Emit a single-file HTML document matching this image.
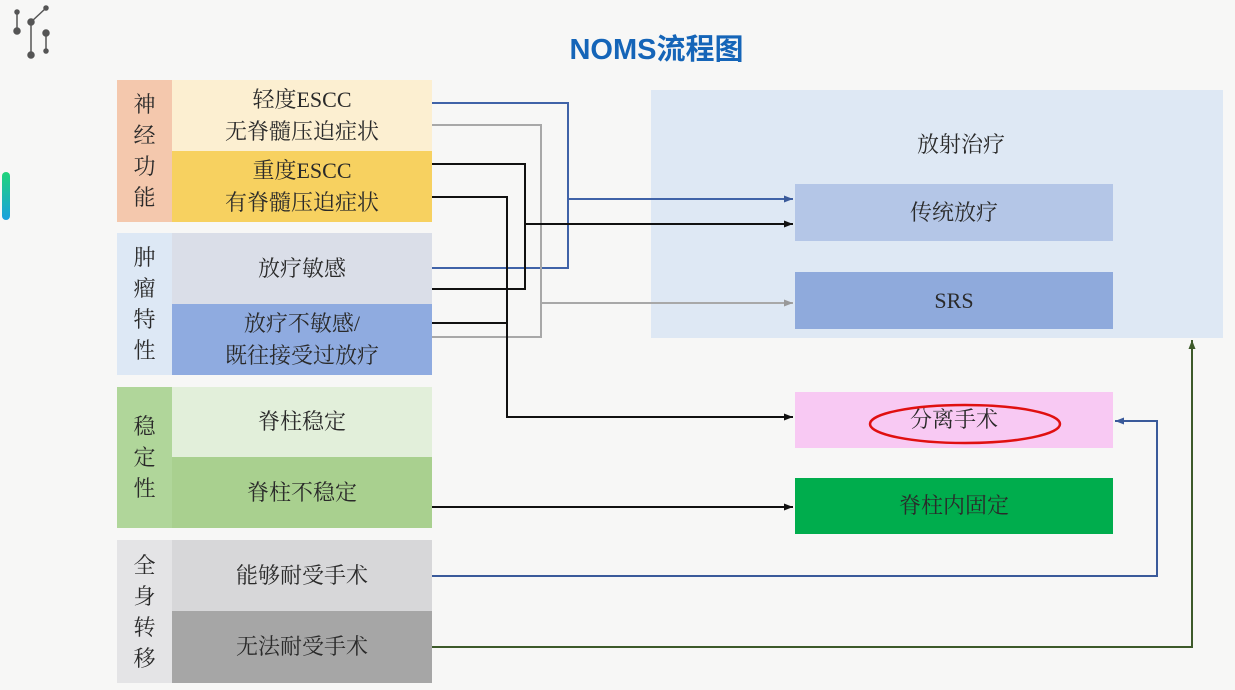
<!DOCTYPE html>
<html><head><meta charset="utf-8"><style>
body{margin:0;width:1235px;height:690px;background:#f7f7f6;position:relative;overflow:hidden;font-family:"Liberation Serif","Noto Serif CJK SC",serif;color:#2a2a2a}
.b{position:absolute;display:flex;align-items:center;justify-content:center;text-align:center;font-size:22px;line-height:32px}
.c{position:absolute;display:flex;align-items:center;justify-content:center;text-align:center;font-size:22px;line-height:31px;width:55px;left:117px}
.t{position:absolute;left:0;top:26px;width:1313px;text-align:center;font:bold 29px "Liberation Sans","Noto Sans CJK SC",sans-serif;color:#1565b8}
</style></head><body>
<div class="t">NOMS流程图</div>
<svg style="position:absolute;left:0;top:0" width="60" height="60"><g stroke="#555" stroke-width="1.5" fill="#555"><line x1="17" y1="12" x2="17" y2="31"/><line x1="31" y1="22" x2="31" y2="55"/><line x1="31" y1="22" x2="46" y2="8"/><line x1="46" y1="33" x2="46" y2="51"/><circle cx="17" cy="31" r="3"/><circle cx="31" cy="22" r="3"/><circle cx="46" cy="8" r="2"/><circle cx="46" cy="33" r="3"/><circle cx="31" cy="55" r="3"/><circle cx="46" cy="51" r="2"/><circle cx="17" cy="12" r="2"/></g></svg>
<div style="position:absolute;left:2px;top:172px;width:8px;height:48px;border-radius:4px;background:linear-gradient(#1fd47a,#1aa0e0)"></div>

<div class="c" style="top:80px;height:142px;background:#f4c8ad">神<br>经<br>功<br>能</div>
<div class="b" style="left:172px;top:80px;width:260px;height:71px;background:#fcefd1">轻度ESCC<br>无脊髓压迫症状</div>
<div class="b" style="left:172px;top:151px;width:260px;height:71px;background:#f7d160">重度ESCC<br>有脊髓压迫症状</div>

<div class="c" style="top:233px;height:142px;background:#dde8f5">肿<br>瘤<br>特<br>性</div>
<div class="b" style="left:172px;top:233px;width:260px;height:71px;background:#dadee8">放疗敏感</div>
<div class="b" style="left:172px;top:304px;width:260px;height:71px;background:#8fabe0">放疗不敏感/<br>既往接受过放疗</div>

<div class="c" style="top:387px;height:141px;background:#b0d69a">稳<br>定<br>性</div>
<div class="b" style="left:172px;top:387px;width:260px;height:70px;background:#e2efda">脊柱稳定</div>
<div class="b" style="left:172px;top:457px;width:260px;height:71px;background:#a9d08f">脊柱不稳定</div>

<div class="c" style="top:540px;height:143px;background:#e4e4e6">全<br>身<br>转<br>移</div>
<div class="b" style="left:172px;top:540px;width:260px;height:71px;background:#d7d7d9">能够耐受手术</div>
<div class="b" style="left:172px;top:611px;width:260px;height:72px;background:#a6a6a6">无法耐受手术</div>

<div style="position:absolute;left:651px;top:90px;width:572px;height:248px;background:#dee8f4"></div>
<div class="b" style="left:651px;top:128px;width:620px;height:34px">放射治疗</div>
<div class="b" style="left:795px;top:184px;width:318px;height:57px;background:#b4c6e7">传统放疗</div>
<div class="b" style="left:795px;top:272px;width:318px;height:57px;background:#8faadc">SRS</div>
<div class="b" style="left:795px;top:392px;width:318px;height:56px;background:#f8c9f3">分离手术</div>
<div class="b" style="left:795px;top:478px;width:318px;height:56px;background:#00ad4d">脊柱内固定</div>

<svg style="position:absolute;left:0;top:0" width="1235" height="690" fill="none">
<defs>
<marker id="ak" markerUnits="userSpaceOnUse" markerWidth="10" markerHeight="10" refX="9" refY="5" orient="auto"><path d="M0,1.5 L9,5 L0,8.5z" fill="#111"/></marker>
<marker id="ab" markerUnits="userSpaceOnUse" markerWidth="10" markerHeight="10" refX="9" refY="5" orient="auto"><path d="M0,1.5 L9,5 L0,8.5z" fill="#3a5a9a"/></marker>
<marker id="ag" markerUnits="userSpaceOnUse" markerWidth="10" markerHeight="10" refX="9" refY="5" orient="auto"><path d="M0,1.5 L9,5 L0,8.5z" fill="#999"/></marker>
<marker id="ad" markerUnits="userSpaceOnUse" markerWidth="10" markerHeight="10" refX="9" refY="5" orient="auto"><path d="M0,1.5 L9,5 L0,8.5z" fill="#3d5a2a"/></marker>
</defs>
<ellipse cx="965" cy="424" rx="95" ry="19" stroke="#e01010" stroke-width="2.5"/>
<g stroke-width="2">
<path d="M432,103 H568 V268 H432" stroke="#4063a8"/>
<path d="M568,199 H793" stroke="#4063a8" marker-end="url(#ab)"/>
<path d="M432,125 H541 V337 H432" stroke="#a8a8a8"/>
<path d="M541,303 H793" stroke="#a8a8a8" marker-end="url(#ag)"/>
<path d="M432,164 H525 V289 H432" stroke="#111"/>
<path d="M525,224 H793" stroke="#111" marker-end="url(#ak)"/>
<path d="M432,197 H507 V417 H793" stroke="#111" marker-end="url(#ak)"/>
<path d="M432,323 H507" stroke="#111"/>
<path d="M432,507 H793" stroke="#111" marker-end="url(#ak)"/>
<path d="M432,576 H1157 V421 H1115" stroke="#3a5a9a" marker-end="url(#ab)"/>
<path d="M432,647 H1192 V340" stroke="#3d5a2a" marker-end="url(#ad)"/>
</g>
</svg>
</body></html>
